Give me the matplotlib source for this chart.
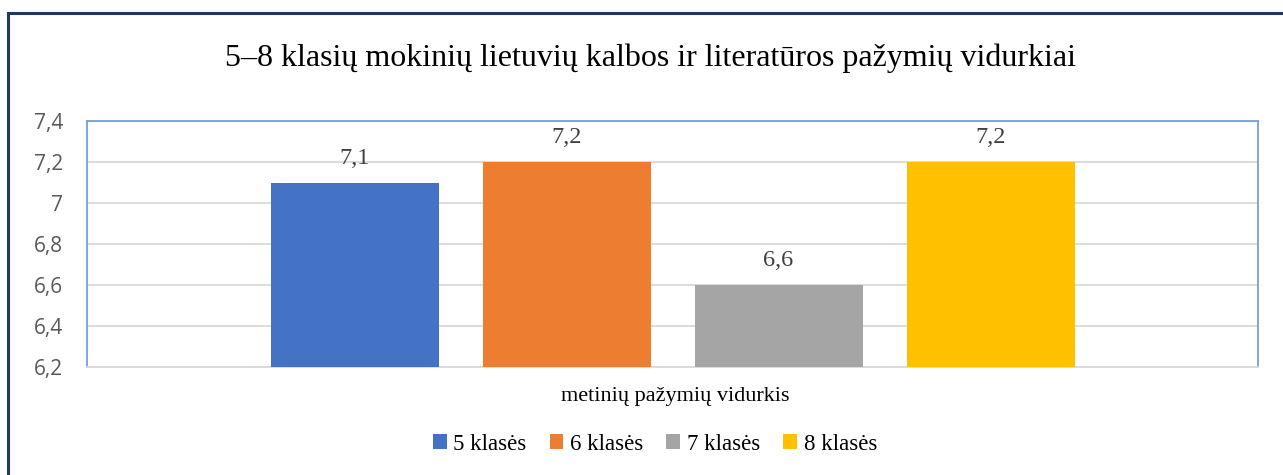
import matplotlib
matplotlib.use("Agg")
import matplotlib.pyplot as plt
from matplotlib.patches import Rectangle
import numpy as np

categories = ["metinių pažymių vidurkis"]
series = ["5 klasės", "6 klasės", "7 klasės", "8 klasės"]
values = [7.1, 7.2, 6.6, 7.2]
labels = ["7,1", "7,2", "6,6", "7,2"]
colors = ["#4472C4", "#ED7D31", "#A5A5A5", "#FFC000"]
yticks = [6.2, 6.4, 6.6, 6.8, 7.0, 7.2, 7.4]
ytick_labels = ["6,2", "6,4", "6,6", "6,8", "7", "7,2", "7,4"]

W, H = 1283, 475
fig = plt.figure(figsize=(W / 100, H / 100), dpi=100)

# outer frame (extends beyond right and bottom edges)
fig.patches.append(Rectangle((8 / W, -0.1), 1.2, (H - 13) / H + 0.1,
                             transform=fig.transFigure, fill=False,
                             edgecolor="#1F3864", linewidth=2.2))

ax_l, ax_r, ax_t, ax_b = 87, 1258, 121, 367
ax = fig.add_axes([ax_l / W, 1 - ax_b / H, (ax_r - ax_l) / W, (ax_b - ax_t) / H])

step = 212 / (ax_r - ax_l)
width = 168 / (ax_r - ax_l)
offsets = (np.arange(len(series)) - (len(series) - 1) / 2) * step
ymin = yticks[0]
for i, (s, v, c, lab) in enumerate(zip(series, values, colors, labels)):
    ax.bar(offsets[i], v - ymin, bottom=ymin, width=width, color=c, label=s, zorder=3)
    ax.annotate(lab, (offsets[i], v), xytext=(0, 10), textcoords="offset points",
                ha="center", va="bottom", fontsize=17.5,
                family="Liberation Serif", color="#404040")

ax.set_xlim(-0.5, 0.5)
ax.set_ylim(yticks[0], yticks[-1])
ax.set_yticks(yticks)
ax.set_yticklabels(ytick_labels, fontsize=15, family="Open Sans", color="#595959")
ax.set_xticks([])
ax.tick_params(axis="y", length=0, pad=17)
ax.grid(axis="y", color="#D9D9D9", linewidth=1.3, zorder=0)
for sp in ["left", "top", "right"]:
    ax.spines[sp].set_color("#7A9DDB")
    ax.spines[sp].set_linewidth(1.3)
ax.spines["bottom"].set_color("#D9D9D9")
ax.spines["bottom"].set_linewidth(1.3)

fig.text(650 / W, 1 - 58 / H, "5–8 klasių mokinių lietuvių kalbos ir literatūros pažymių vidurkiai",
         ha="center", va="center", fontsize=23, family="Liberation Serif", color="#000000")
fig.text(675 / W, 1 - 397 / H, categories[0], ha="center", va="center",
         fontsize=16, family="Liberation Serif", color="#000000")

handles, lbls = ax.get_legend_handles_labels()
fig.legend(handles, lbls, loc="center", bbox_to_anchor=(655 / W, 1 - 444 / H),
           ncol=4, frameon=False, prop={"family": "Liberation Serif", "size": 16.5},
           handlelength=0.6, handleheight=0.6, handletextpad=0.3, columnspacing=1.0)

fig.savefig("out.png", dpi=100, facecolor="white")
